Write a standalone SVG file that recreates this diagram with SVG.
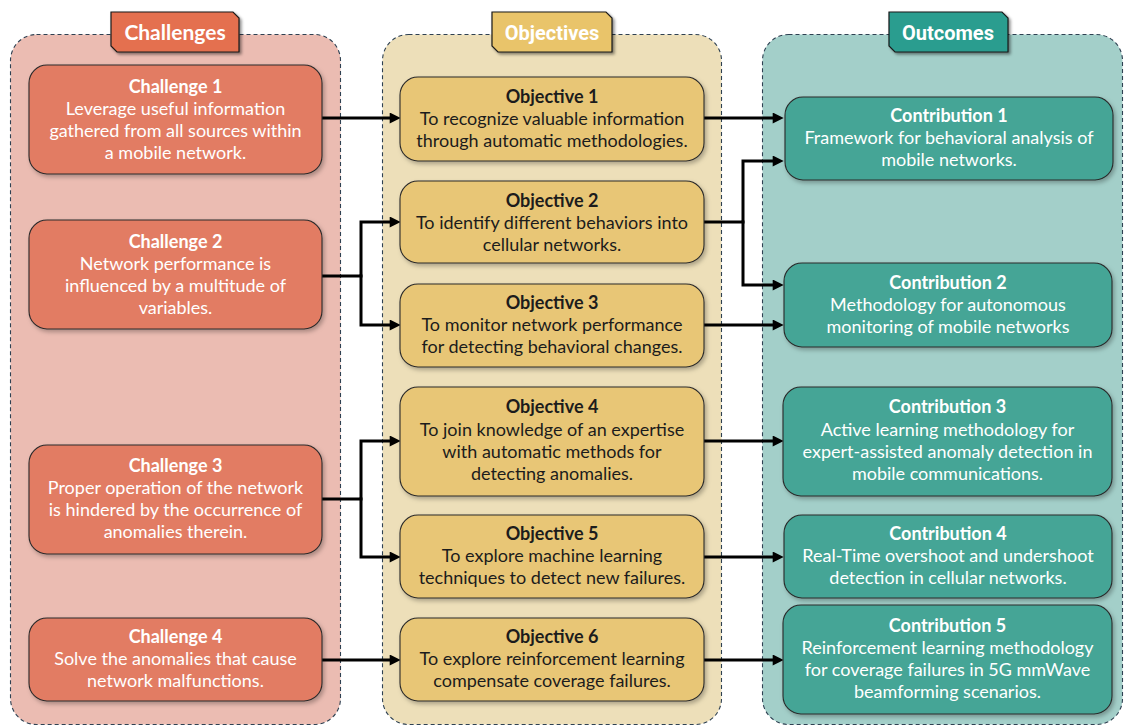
<svg xmlns="http://www.w3.org/2000/svg" width="1124" height="726" viewBox="0 0 1124 726">
<defs>
<style>
.panel{stroke:#2e4152;stroke-width:1.1;stroke-dasharray:4 3}
.node{stroke:#2a2a2a;stroke-width:1.1}
.tab{stroke:#1a1a1a;stroke-width:1.2}
.ch{fill:#e27b64}
.ob{fill:#e8c676}
.co{fill:#44a596}
text{font-family:Lato,"Open Sans","Liberation Sans",sans-serif;font-size:18px;text-anchor:middle}
.t{font-weight:bold;font-size:18px}
.w{fill:#ffffff}
.d{fill:#1c1c1c}
.tabt{font-weight:bold;font-size:21px;fill:#ffffff}
.tabr{font-family:Roboto,"Liberation Sans",sans-serif;font-size:20px}
.conn{fill:none;stroke:#000;stroke-width:3}
</style>
<filter id="sh" x="-10%" y="-10%" width="125%" height="130%">
<feDropShadow dx="2" dy="2.5" stdDeviation="2" flood-color="#000" flood-opacity="0.28"/>
</filter>
<filter id="tsh" x="-10%" y="-10%" width="130%" height="140%">
<feDropShadow dx="2" dy="2" stdDeviation="1.5" flood-color="#000" flood-opacity="0.45"/>
</filter>
<marker id="ah" viewBox="0 0 10 10" refX="3" refY="5" markerWidth="12" markerHeight="11" markerUnits="userSpaceOnUse" orient="auto">
<path d="M0,0 L10,5 L0,10 z" fill="#000"/>
</marker>
</defs>
<rect width="1124" height="726" fill="#ffffff"/>

<g id="panel-challenges">
<rect class="panel" x="10.5" y="34.5" width="330" height="690" rx="26" fill="#ebbcb2"/>
</g>
<g id="panel-objectives">
<rect class="panel" x="382.5" y="34.5" width="339" height="690" rx="26" fill="#eddfb9"/>
</g>
<g id="panel-outcomes">
<rect class="panel" x="762.5" y="34.5" width="360" height="690" rx="26" fill="#a3cfc9"/>
</g>

<g id="tab-challenges">
<polygon class="tab" points="111,12 233,12 239,18 239,52 117,52 111,46" fill="#e4704f" filter="url(#tsh)"/>
<text class="tabt" x="175" y="40">Challenges</text>
</g>
<g id="tab-objectives">
<polygon class="tab" points="492,12 606,12 612,18 612,52 498,52 492,46" fill="#e9c46a" filter="url(#tsh)"/>
<text class="tabt tabr" x="552" y="40">Objectives</text>
</g>
<g id="tab-outcomes">
<polygon class="tab" points="889,12 1002,12 1008,18 1008,52 895,52 889,46" fill="#2a9d8f" filter="url(#tsh)"/>
<text class="tabt tabr" x="948" y="40">Outcomes</text>
</g>

<g id="connectors">
<path class="conn" d="M322,118 H393" marker-end="url(#ah)"/>
<path class="conn" d="M704,118 H776" marker-end="url(#ah)"/>
<path class="conn" d="M322,276 H361 V222 H393" marker-end="url(#ah)"/>
<path class="conn" d="M361,274.5 V325 H393" marker-end="url(#ah)"/>
<path class="conn" d="M704,222 H743 V161 H776" marker-end="url(#ah)"/>
<path class="conn" d="M743,220.5 V285 H776" marker-end="url(#ah)"/>
<path class="conn" d="M704,325 H776" marker-end="url(#ah)"/>
<path class="conn" d="M322,499 H361 V441 H393" marker-end="url(#ah)"/>
<path class="conn" d="M361,497.5 V557 H393" marker-end="url(#ah)"/>
<path class="conn" d="M704,441 H776" marker-end="url(#ah)"/>
<path class="conn" d="M704,557 H776" marker-end="url(#ah)"/>
<path class="conn" d="M322,660 H393" marker-end="url(#ah)"/>
<path class="conn" d="M704,660 H776" marker-end="url(#ah)"/>
</g>

<g id="challenge1">
<rect class="node ch" x="29" y="65" width="293" height="109" rx="18" filter="url(#sh)"/>
<text class="t w" x="175.5" y="93">Challenge 1</text>
<text class="w" x="175.5" y="115">Leverage useful information</text>
<text class="w" x="175.5" y="137">gathered from all sources within</text>
<text class="w" x="175.5" y="159">a mobile network.</text>
</g>
<g id="challenge2">
<rect class="node ch" x="29" y="220" width="293" height="109" rx="18" filter="url(#sh)"/>
<text class="t w" x="175.5" y="248">Challenge 2</text>
<text class="w" x="175.5" y="270">Network performance is</text>
<text class="w" x="175.5" y="292">influenced by a multitude of</text>
<text class="w" x="175.5" y="314">variables.</text>
</g>
<g id="challenge3">
<rect class="node ch" x="29" y="445" width="293" height="109" rx="18" filter="url(#sh)"/>
<text class="t w" x="175.5" y="472">Challenge 3</text>
<text class="w" x="175.5" y="494">Proper operation of the network</text>
<text class="w" x="175.5" y="516">is hindered by the occurrence of</text>
<text class="w" x="175.5" y="538">anomalies therein.</text>
</g>
<g id="challenge4">
<rect class="node ch" x="29" y="618" width="293" height="83" rx="18" filter="url(#sh)"/>
<text class="t w" x="175.5" y="643">Challenge 4</text>
<text class="w" x="175.5" y="665">Solve the anomalies that cause</text>
<text class="w" x="175.5" y="687">network malfunctions.</text>
</g>

<g id="objective1">
<rect class="node ob" x="400" y="77" width="304" height="84" rx="18" filter="url(#sh)"/>
<text class="t d" x="552" y="103">Objective 1</text>
<text class="d" x="552" y="125">To recognize valuable information</text>
<text class="d" x="552" y="147">through automatic methodologies.</text>
</g>
<g id="objective2">
<rect class="node ob" x="400" y="181" width="304" height="82" rx="18" filter="url(#sh)"/>
<text class="t d" x="552" y="207">Objective 2</text>
<text class="d" x="552" y="229">To identify different behaviors into</text>
<text class="d" x="552" y="251">cellular networks.</text>
</g>
<g id="objective3">
<rect class="node ob" x="400" y="284" width="304" height="83" rx="18" filter="url(#sh)"/>
<text class="t d" x="552" y="309">Objective 3</text>
<text class="d" x="552" y="331">To monitor network performance</text>
<text class="d" x="552" y="353">for detecting behavioral changes.</text>
</g>
<g id="objective4">
<rect class="node ob" x="400" y="387" width="304" height="109" rx="18" filter="url(#sh)"/>
<text class="t d" x="552" y="413">Objective 4</text>
<text class="d" x="552" y="436">To join knowledge of an expertise</text>
<text class="d" x="552" y="458">with automatic methods for</text>
<text class="d" x="552" y="480">detecting anomalies.</text>
</g>
<g id="objective5">
<rect class="node ob" x="400" y="515" width="304" height="83" rx="18" filter="url(#sh)"/>
<text class="t d" x="552" y="540">Objective 5</text>
<text class="d" x="552" y="562">To explore machine learning</text>
<text class="d" x="552" y="584">techniques to detect new failures.</text>
</g>
<g id="objective6">
<rect class="node ob" x="400" y="618" width="304" height="83" rx="18" filter="url(#sh)"/>
<text class="t d" x="552" y="643">Objective 6</text>
<text class="d" x="552" y="665">To explore reinforcement learning</text>
<text class="d" x="552" y="687">compensate coverage failures.</text>
</g>

<g id="contribution1">
<rect class="node co" x="785" y="97" width="328" height="83" rx="18" filter="url(#sh)"/>
<text class="t w" x="949" y="122">Contribution 1</text>
<text class="w" x="949" y="144">Framework for behavioral analysis of</text>
<text class="w" x="949" y="166">mobile networks.</text>
</g>
<g id="contribution2">
<rect class="node co" x="784" y="263" width="328" height="84" rx="18" filter="url(#sh)"/>
<text class="t w" x="948" y="289">Contribution 2</text>
<text class="w" x="948" y="311">Methodology for autonomous</text>
<text class="w" x="948" y="333">monitoring of mobile networks</text>
</g>
<g id="contribution3">
<rect class="node co" x="783" y="387" width="329" height="109" rx="18" filter="url(#sh)"/>
<text class="t w" x="947.5" y="413">Contribution 3</text>
<text class="w" x="947.5" y="436">Active learning methodology for</text>
<text class="w" x="947.5" y="458">expert-assisted anomaly detection in</text>
<text class="w" x="947.5" y="480">mobile communications.</text>
</g>
<g id="contribution4">
<rect class="node co" x="784" y="515" width="328" height="83" rx="18" filter="url(#sh)"/>
<text class="t w" x="948" y="540">Contribution 4</text>
<text class="w" x="948" y="562">Real-Time overshoot and undershoot</text>
<text class="w" x="948" y="584">detection in cellular networks.</text>
</g>
<g id="contribution5">
<rect class="node co" x="783" y="605" width="329" height="109" rx="18" filter="url(#sh)"/>
<text class="t w" x="947.5" y="632">Contribution 5</text>
<text class="w" x="947.5" y="654">Reinforcement learning methodology</text>
<text class="w" x="947.5" y="676">for coverage failures in 5G mmWave</text>
<text class="w" x="947.5" y="698">beamforming scenarios.</text>
</g>
</svg>
